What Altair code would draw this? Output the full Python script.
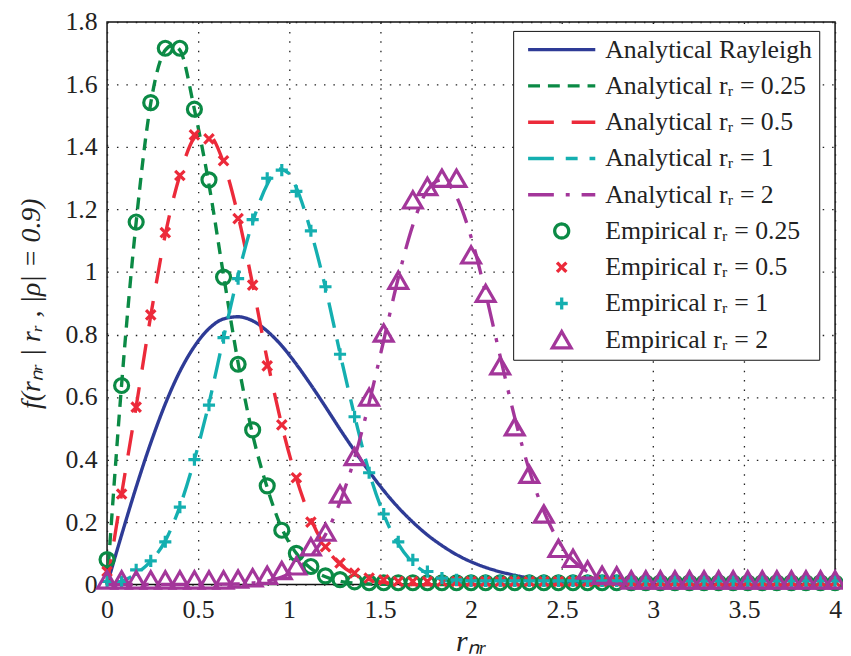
import altair as alt
import pandas as pd

# ---------------- data ----------------
labels = [
    "Analytical Rayleigh",
    "Analytical rᵣ = 0.25",
    "Analytical rᵣ = 0.5",
    "Analytical rᵣ = 1",
    "Analytical rᵣ = 2",
    "Empirical rᵣ = 0.25",
    "Empirical rᵣ = 0.5",
    "Empirical rᵣ = 1",
    "Empirical rᵣ = 2",
]

# empirical sample positions (bin centres)
x_grid = [0.00, 0.08, 0.16, 0.24, 0.32, 0.40, 0.48, 0.56, 0.64, 0.72,
          0.80, 0.88, 0.96, 1.04, 1.12, 1.20, 1.28, 1.36, 1.44, 1.52,
          1.60, 1.68, 1.76, 1.84, 1.92, 2.00, 2.08, 2.16, 2.24, 2.32,
          2.40, 2.48, 2.56, 2.64, 2.72, 2.80, 2.88, 2.96, 3.04, 3.12,
          3.20, 3.28, 3.36, 3.44, 3.52, 3.60, 3.68, 3.76, 3.84, 3.92, 4.00]

emp_025 = [0.080, 0.637, 1.160, 1.542, 1.716, 1.716, 1.521, 1.295, 0.984, 0.705,
           0.495, 0.316, 0.174, 0.100, 0.058, 0.028, 0.016, 0.009, 0.006, 0.006,
           0.006, 0.006, 0.006, 0.006, 0.006, 0.006, 0.006, 0.006, 0.006, 0.006,
           0.006, 0.006, 0.006, 0.006, 0.006, 0.006, 0.006, 0.006, 0.006, 0.006,
           0.006, 0.006, 0.006, 0.006, 0.006, 0.006, 0.006, 0.006, 0.006, 0.006, 0.006]
emp_05 = [0.042, 0.290, 0.568, 0.863, 1.126, 1.309, 1.439, 1.426, 1.356, 1.171,
          0.958, 0.700, 0.511, 0.342, 0.200, 0.121, 0.069, 0.037, 0.021, 0.015,
          0.010, 0.010, 0.010, 0.010, 0.010, 0.010, 0.010, 0.010, 0.010, 0.010,
          0.010, 0.010, 0.010, 0.010, 0.010, 0.010, 0.010, 0.010, 0.010, 0.010,
          0.010, 0.010, 0.010, 0.010, 0.010, 0.010, 0.010, 0.010, 0.010, 0.010, 0.010]
emp_1 = [0.010, 0.010, 0.047, 0.076, 0.137, 0.248, 0.400, 0.574, 0.790, 0.979,
         1.168, 1.300, 1.326, 1.258, 1.132, 0.953, 0.737, 0.537, 0.358, 0.226,
         0.137, 0.079, 0.042, 0.021, 0.015, 0.012, 0.012, 0.012, 0.012, 0.012,
         0.012, 0.012, 0.012, 0.012, 0.012, 0.012, 0.012, 0.012, 0.012, 0.012,
         0.012, 0.012, 0.012, 0.012, 0.012, 0.012, 0.012, 0.012, 0.012, 0.012, 0.012]
emp_2 = [0.015, 0.015, 0.015, 0.015, 0.015, 0.015, 0.015, 0.015, 0.015, 0.018,
         0.022, 0.030, 0.045, 0.060, 0.121, 0.168, 0.290, 0.410, 0.600, 0.805,
         0.974, 1.231, 1.274, 1.300, 1.300, 1.055, 0.932, 0.700, 0.505, 0.353,
         0.226, 0.116, 0.084, 0.047, 0.030, 0.028, 0.015, 0.015, 0.015, 0.015,
         0.015, 0.015, 0.015, 0.015, 0.015, 0.015, 0.015, 0.015, 0.015, 0.015, 0.015]

# analytical curves
ray_x = [0.00, 0.08, 0.16, 0.24, 0.32, 0.40, 0.48, 0.56, 0.64, 0.72,
         0.80, 0.88, 0.96, 1.04, 1.12, 1.20, 1.28, 1.36, 1.44, 1.52,
         1.60, 1.68, 1.76, 1.84, 1.92, 2.00, 2.08, 2.16, 2.24, 2.32,
         2.40, 2.48, 2.56, 2.64, 2.72, 2.80, 2.88, 4.00]
ray_y = [0.000, 0.159, 0.312, 0.453, 0.578, 0.682, 0.762, 0.819, 0.850, 0.857,
         0.844, 0.811, 0.764, 0.705, 0.639, 0.569, 0.497, 0.428, 0.362, 0.301,
         0.247, 0.200, 0.159, 0.125, 0.096, 0.073, 0.055, 0.041, 0.030, 0.021,
         0.015, 0.010, 0.007, 0.005, 0.003, 0.002, 0.001, 0.000]

a025_x = [0.00, 0.04, 0.08, 0.16, 0.24, 0.32, 0.36, 0.40, 0.48, 0.56, 0.64, 0.72,
          0.80, 0.88, 0.96, 1.04, 1.12, 1.20, 1.28, 1.36, 1.44, 1.52, 1.60, 4.00]
a025_y = [0.000, 0.330, 0.640, 1.160, 1.540, 1.710, 1.725, 1.710, 1.520, 1.280, 0.990, 0.710,
          0.480, 0.310, 0.180, 0.100, 0.052, 0.025, 0.011, 0.005, 0.002, 0.001, 0.000, 0.000]

a05_x = [0.00, 0.08, 0.16, 0.24, 0.32, 0.40, 0.48, 0.52, 0.56, 0.64, 0.72, 0.80,
         0.88, 0.96, 1.04, 1.12, 1.20, 1.28, 1.36, 1.44, 1.52, 1.60, 1.68, 4.00]
a05_y = [0.000, 0.290, 0.570, 0.860, 1.120, 1.310, 1.430, 1.445, 1.440, 1.350, 1.180, 0.960,
         0.720, 0.510, 0.340, 0.210, 0.120, 0.065, 0.033, 0.016, 0.007, 0.003, 0.000, 0.000]

a1_x = [0.00, 0.08, 0.16, 0.24, 0.32, 0.40, 0.48, 0.56, 0.64, 0.72,
        0.80, 0.88, 0.94, 1.00, 1.04, 1.12, 1.20, 1.28, 1.36, 1.44,
        1.52, 1.60, 1.68, 1.76, 1.84, 1.92, 2.00, 2.08, 4.00]
a1_y = [0.000, 0.010, 0.035, 0.075, 0.140, 0.250, 0.400, 0.580, 0.790, 0.990,
        1.160, 1.280, 1.330, 1.315, 1.270, 1.130, 0.950, 0.740, 0.540, 0.360,
        0.225, 0.130, 0.070, 0.035, 0.016, 0.007, 0.003, 0.000, 0.000]

a2_x = [0.00, 0.72, 0.80, 0.88, 0.96, 1.04, 1.12, 1.20, 1.28, 1.36,
        1.44, 1.52, 1.60, 1.68, 1.76, 1.84, 1.92, 2.00, 2.08, 2.16,
        2.24, 2.32, 2.40, 2.48, 2.56, 2.64, 2.72, 2.80, 2.88, 2.96, 4.00]
a2_y = [0.000, 0.002, 0.005, 0.011, 0.024, 0.048, 0.091, 0.160, 0.264, 0.405,
        0.582, 0.781, 0.981, 1.150, 1.262, 1.295, 1.241, 1.112, 0.932, 0.730,
        0.534, 0.366, 0.234, 0.140, 0.078, 0.041, 0.020, 0.009, 0.004, 0.001, 0.000]

x_ticks = [0, 0.5, 1, 1.5, 2, 2.5, 3, 3.5, 4]
y_ticks = [0, 0.2, 0.4, 0.6, 0.8, 1.0, 1.2, 1.4, 1.6, 1.8]

# ---------------- styles ----------------
colors = ["#2e3b96", "#0b8a45", "#ec2a3a", "#14afb0", "#a3369a",
          "#0b8a45", "#ec2a3a", "#14afb0", "#a3369a"]
dashes = [[1, 0], [12, 8], [26, 18], [26, 12, 12, 12], [26, 12, 4, 12],
          [1, 0], [1, 0], [1, 0], [1, 0]]
X_PATH = "M-1,-1L1,1M-1,1L1,-1"
PLUS_PATH = "M-1,0L1,0M0,-1L0,1"
shapes = ["stroke", "stroke", "stroke", "stroke", "stroke",
          "circle", X_PATH, PLUS_PATH, "triangle-up"]
sizes = [4600, 4600, 4600, 4600, 4600, 200, 90, 150, 360]

# ---------------- tables ----------------
line_rows = []
for name, xs, ys in [(labels[0], ray_x, ray_y), (labels[1], a025_x, a025_y),
                     (labels[2], a05_x, a05_y), (labels[3], a1_x, a1_y),
                     (labels[4], a2_x, a2_y)]:
    for xv, yv in zip(xs, ys):
        line_rows.append({"series": name, "x": xv, "y": yv})
line_df = pd.DataFrame(line_rows)

pt_rows = []
for name, ys in [(labels[5], emp_025), (labels[6], emp_05),
                 (labels[7], emp_1), (labels[8], emp_2)]:
    for xv, yv in zip(x_grid, ys):
        pt_rows.append({"series": name, "x": xv, "y": yv})
pt_df = pd.DataFrame(pt_rows)

SERIF = "Liberation Serif"

leg = alt.Legend(
    title=None, orient="none", legendX=410, legendY=9,
    padding=7, strokeColor="#111", fillColor="white",
    labelFont=SERIF, labelFontSize=26, labelColor="#222", labelLimit=0,
    labelOffset=8, symbolOffset=6, symbolStrokeWidth=3.3, symbolOpacity=1,
    clipHeight=24, rowPadding=10.6, symbolFillColor="transparent",
)

x_enc = alt.X("x:Q", scale=alt.Scale(domain=[0, 4], nice=False, zero=False),
              axis=alt.Axis(values=x_ticks, format="~g", title="rₙᵣ",
                            grid=True, gridDash=[1.5, 8], gridColor="#222",
                            gridWidth=1.3, tickSize=0, domain=False,
                            labelFont=SERIF, labelFontSize=26, labelColor="#222",
                            labelPadding=12, labelFlush=False,
                            titleFont=SERIF, titleFontSize=30, titleFontStyle="italic",
                            titleFontWeight="normal", titleColor="#222",
                            titlePadding=5))
y_enc = alt.Y("y:Q", scale=alt.Scale(domain=[0, 1.8], nice=False),
              axis=alt.Axis(values=y_ticks, format="~g",
                            title="f(rₙᵣ | rᵣ , |ρ| = 0.9)",
                            grid=True, gridDash=[1.5, 8], gridColor="#222",
                            gridWidth=1.3, tickSize=0, domain=False,
                            labelFont=SERIF, labelFontSize=26, labelColor="#222",
                            labelPadding=10, labelFlush=False,
                            titleFont=SERIF, titleFontSize=28, titleFontStyle="italic",
                            titleFontWeight="normal", titleColor="#222",
                            titlePadding=20))

color_enc = alt.Color("series:N", scale=alt.Scale(domain=labels, range=colors), legend=leg)

lines = alt.Chart(line_df).mark_line(strokeWidth=3.4, interpolate="monotone").encode(
    x=x_enc, y=y_enc, color=color_enc,
    strokeDash=alt.StrokeDash("series:N", scale=alt.Scale(domain=labels, range=dashes), legend=leg),
)

points = alt.Chart(pt_df).mark_point(filled=False, strokeWidth=3.2, opacity=1).encode(
    x=x_enc, y=y_enc, color=color_enc,
    shape=alt.Shape("series:N", scale=alt.Scale(domain=labels, range=shapes), legend=leg),
    size=alt.Size("series:N", scale=alt.Scale(type="ordinal", domain=labels, range=sizes), legend=leg),
)

chart = alt.layer(lines, points).properties(
    width=735, height=568,
    autosize=alt.AutoSizeParams(type="none"),
    padding={"left": 100, "top": 11, "right": 8, "bottom": 76},
).configure_view(stroke="#111", strokeWidth=1.5)

chart.save("out.html", embed_options={"renderer": "svg", "actions": False})
